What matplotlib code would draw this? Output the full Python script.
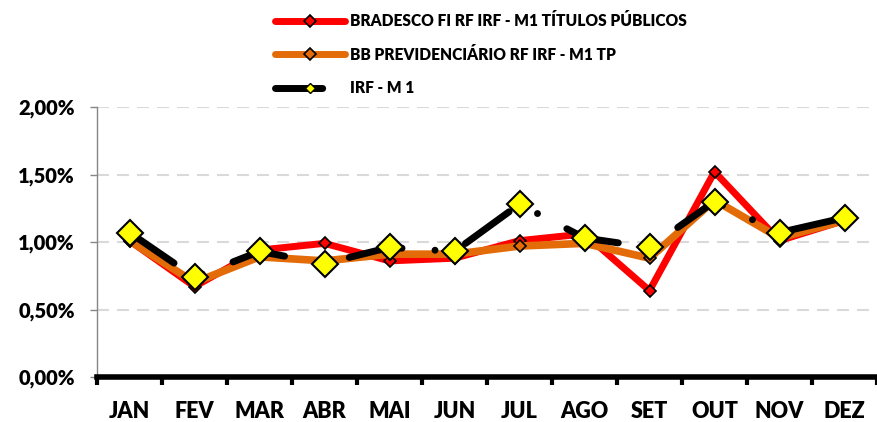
import matplotlib
matplotlib.use('Agg')
import matplotlib.pyplot as plt
from matplotlib.lines import Line2D
from matplotlib.ticker import FuncFormatter, MultipleLocator

plt.rcParams['font.family'] = ['Lato', 'DejaVu Sans']
plt.rcParams['font.weight'] = 'heavy'
plt.rcParams['lines.scale_dashes'] = False      # Strichmuster in Punkten

# Daten (Rentabilidade mensal em %)
meses = ['JAN', 'FEV', 'MAR', 'ABR', 'MAI', 'JUN', 'JUL', 'AGO', 'SET', 'OUT', 'NOV', 'DEZ']
bradesco = [1.01, 0.67, 0.94, 0.99, 0.86, 0.88, 1.01, 1.06, 0.64, 1.52, 1.01, 1.16]
bb_prev = [1.01, 0.70, 0.89, 0.86, 0.91, 0.91, 0.97, 0.99, 0.88, 1.31, 1.03, 1.16]
irf_m1 = [1.07, 0.74, 0.93, 0.84, 0.96, 0.93, 1.28, 1.03, 0.96, 1.30, 1.07, 1.18]

nomes = ['BRADESCO FI RF IRF - M1 TÍTULOS PÚBLICOS',
         'BB PREVIDENCIÁRIO RF IRF - M1 TP',
         'IRF - M 1']

vermelho = '#FF0000'
laranja = '#E36C09'
amarelo = '#FFFF00'
traco = (0, (38.9, 23.8, 0.01, 23.8))            # langer Strich - Punkt

fig = plt.figure(figsize=(8.77, 4.22), dpi=100)
ax = fig.add_axes([97 / 877, 45 / 422, 780 / 877, 270 / 422])

x = list(range(len(meses)))

ax.plot(x, bradesco, color=vermelho, lw=5, marker='D', ms=6.5,
        mfc=vermelho, mec='black', mew=1.2, zorder=3)
ax.plot(x, bb_prev, color=laranja, lw=5.5, marker='D', ms=6.5,
        mfc=laranja, mec='black', mew=1.2, zorder=4)
ax.plot(x, irf_m1, color='black', lw=5, linestyle=traco, dash_capstyle='round',
        solid_capstyle='round', zorder=5)
ax.plot(x, irf_m1, linestyle='none', marker='D', ms=13,
        mfc=amarelo, mec='black', mew=1.5, zorder=6)

# Achsen
ax.set_xlim(-0.5, 11.5)
ax.set_ylim(0, 2.0)
ax.yaxis.set_major_locator(MultipleLocator(0.5))
ax.yaxis.set_major_formatter(FuncFormatter(lambda v, p: f'{v:.2f}%'.replace('.', ',')))
ax.grid(axis='y', color='#D9D9D9', lw=1.5, linestyle=(0, (8.6, 5.8)))
ax.set_axisbelow(True)

ax.set_xticks(x)
ax.set_xticklabels(meses)
ax.set_xticks([i - 0.5 for i in range(len(meses) + 1)], minor=True)
ax.tick_params(axis='x', which='major', length=0, pad=17, labelsize=15.5)
ax.tick_params(axis='x', which='minor', length=6, width=3, color='black', direction='out')
ax.tick_params(axis='y', length=5, width=1, color='#868686', pad=11, labelsize=14.5)

for s in ['top', 'right']:
    ax.spines[s].set_visible(False)
ax.spines['left'].set_color('#868686')
ax.spines['left'].set_linewidth(1)
ax.spines['bottom'].set_color('black')
ax.spines['bottom'].set_linewidth(4)
ax.spines['bottom'].set_zorder(7)

# Legende
handles = [
    Line2D([], [], color=vermelho, lw=5, marker='D', ms=6.5, mfc=vermelho, mec='black', mew=1.2,
           solid_capstyle='round'),
    Line2D([], [], color=laranja, lw=5, marker='D', ms=6.5, mfc=laranja, mec='black', mew=1.2,
           solid_capstyle='round'),
    Line2D([], [], color='black', lw=5, marker='D', ms=5.5, mfc=amarelo, mec='black', mew=1,
           linestyle=(0, (34, 60)), dash_capstyle='round'),
]
fig.legend(handles, nomes, loc='upper left', bbox_to_anchor=(262 / 877, 1.0),
           frameon=False, fontsize=11.2, handlelength=4.5, handletextpad=0.3,
           labelspacing=1.12, borderaxespad=0.45)

fig.savefig('out.png', dpi=100)
